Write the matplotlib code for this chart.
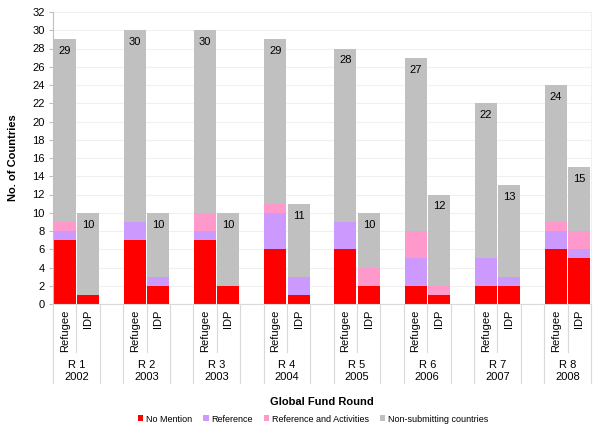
import matplotlib
matplotlib.use("Agg")
import matplotlib.pyplot as plt
from matplotlib.transforms import blended_transform_factory
from matplotlib.patches import Patch

plt.rcParams['font.family'] = ['Liberation Sans', 'DejaVu Sans']

rounds = ["R 1\n2002", "R 2\n2003", "R 3\n2003", "R 4\n2004",
          "R 5\n2005", "R 6\n2006", "R 7\n2007", "R 8\n2008"]
subcats = ["Refugee", "IDP"]
series = ["No Mention", "Reference", "Reference and Activities", "Non-submitting countries"]
colors = ["#ff0000", "#cc99ff", "#ff99cc", "#c0c0c0"]

# values per round: [Refugee, IDP]
no_mention = [[7, 1], [7, 2], [7, 2], [6, 1], [6, 2], [2, 1], [2, 2], [6, 5]]
reference = [[1, 0], [2, 1], [1, 0], [4, 2], [3, 0], [3, 0], [3, 1], [2, 1]]
ref_act = [[1, 0], [0, 0], [2, 0], [1, 0], [0, 2], [3, 1], [0, 0], [1, 2]]
non_sub = [[20, 9], [21, 7], [20, 8], [18, 8], [19, 6], [19, 10], [17, 10], [15, 7]]
totals = [[29, 10], [30, 10], [30, 10], [29, 11], [28, 10], [27, 12], [22, 13], [24, 15]]

fig = plt.figure(figsize=(6, 4.3), dpi=100)
ax = fig.add_axes([53/600, 1-304/430, 538/600, 292/430])

xs, labels_sub = [], []
for g in range(len(rounds)):
    for s in range(2):
        xs.append(3*g + s)
        labels_sub.append(subcats[s])

data = [no_mention, reference, ref_act, non_sub]
bottoms = [0]*len(xs)
for si, arr in enumerate(data):
    vals = [arr[g][s] for g in range(len(rounds)) for s in range(2)]
    ax.bar(xs, vals, width=0.94, bottom=bottoms, color=colors[si], zorder=2, linewidth=0)
    bottoms = [b + v for b, v in zip(bottoms, vals)]

tot_flat = [totals[g][s] for g in range(len(rounds)) for s in range(2)]
for x, t in zip(xs, tot_flat):
    ax.annotate(str(t), (x, t), xytext=(0, -5), textcoords='offset points',
                ha='center', va='top', fontsize=8, color='#000000', zorder=3)

ax.set_xlim(-0.5, 3*len(rounds) - 1.5)
ax.set_ylim(0, 32)
ax.set_yticks(range(0, 33, 2))
ax.tick_params(axis='y', labelsize=8, length=3, color='#bfbfbf', pad=3)
ax.set_xticks([])
ax.yaxis.grid(True, color='#f0f0f0', linewidth=0.8, zorder=0)
ax.set_axisbelow(True)
for sp in ['top']:
    ax.spines[sp].set_visible(False)
ax.spines['right'].set_color('#f0f0f0')
ax.spines['left'].set_color('#bfbfbf')
ax.spines['bottom'].set_color('#d9d9d9')

ax.set_ylabel("No. of Countries", fontsize=8, fontweight='bold', labelpad=10)

trans = blended_transform_factory(ax.transData, ax.transAxes)
line_c = '#d9d9d9'
for g in range(len(rounds)):
    left = 3*g - 0.5
    right = 3*g + 1.5
    mid = 3*g + 0.5
    for xv in (left, right):
        ax.plot([xv, xv], [0, -0.27], transform=trans, color=line_c, lw=0.8, clip_on=False)
    ax.plot([mid, mid], [0, -0.165], transform=trans, color=line_c, lw=0.8, clip_on=False)
    for s in range(2):
        ax.text(3*g + s, -0.02, subcats[s], transform=trans, rotation=90,
                ha='center', va='top', fontsize=8)
    ax.text(mid, -0.229, rounds[g], transform=trans, ha='center', va='center',
            fontsize=8, linespacing=1.25)

fig.text(0.5 + 22/600, 1-402/430, "Global Fund Round", ha='center', va='center',
         fontsize=8, fontweight='bold')

handles = [Patch(facecolor=c, edgecolor='none') for c in colors]
fig.legend(handles, series, loc='center', bbox_to_anchor=(0.5 + 22/600 - 0.015, 1-419/430),
           ncol=4, frameon=False, fontsize=6.5, handlelength=0.6, handleheight=0.6,
           handletextpad=0.3, columnspacing=1.2)

fig.savefig("out.png", dpi=100)
